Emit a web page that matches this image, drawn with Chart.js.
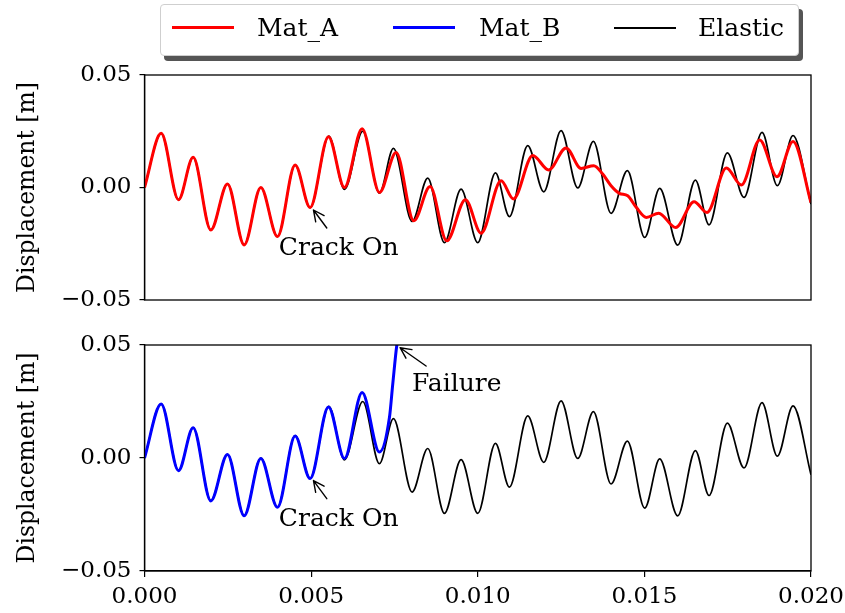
<!DOCTYPE html>
<html>
<head>
<meta charset="utf-8">
<title>Displacement</title>
<script src="https://cdn.jsdelivr.net/npm/chart.js@4.4.1/dist/chart.umd.min.js"></script>
<style>
  body { margin: 0; background: #fff; }
  #wrap { position: relative; width: 845px; height: 613px; font-family: 'DejaVu Serif', serif; }
  canvas { position: absolute; left: 0; }
  #legend {
    position: absolute; left: 160px; top: 4px; width: 637px; height: 50px;
    background: #fff; border: 1px solid #cfcfcf; border-radius: 4px;
    box-shadow: 4px 5px 0 #555;
  }
  #legend .ln { position: absolute; width: 62px; }
  #legend .tx { position: absolute; top: 8px; font-size: 25px; line-height: 30px; color: #000; white-space: nowrap; }
</style>
</head>
<body>
<div id="wrap">
  <canvas id="topChart" width="845" height="322" style="top:0"></canvas>
  <canvas id="bottomChart" width="845" height="291" style="top:322px"></canvas>
  <div id="legend"></div>
</div>
<script>
// time [s] and displacement [m] (peaks / troughs)
const elasticT = [0, 0.0005, 0.00102, 0.00146, 0.00199, 0.00249, 0.00299, 0.00349, 0.00399, 0.00452, 0.00497, 0.00553, 0.0060, 0.00655, 0.00705, 0.00747, 0.00803, 0.0085, 0.0090, 0.0095, 0.0100, 0.01053, 0.01095, 0.0115, 0.01198, 0.0125, 0.0130, 0.01347, 0.0140, 0.01449, 0.01501, 0.01546, 0.0160, 0.01653, 0.01694, 0.01749, 0.01799, 0.01853, 0.01899, 0.01946, 0.0200];
const elasticY = [0, 0.0240, -0.0055, 0.0134, -0.0189, 0.0016, -0.0255, 0.0000, -0.0218, 0.0099, -0.0090, 0.0228, -0.0008, 0.0250, -0.0025, 0.0174, -0.0151, 0.0042, -0.0245, -0.0007, -0.0245, 0.0065, -0.0129, 0.0186, -0.0019, 0.0253, -0.0002, 0.0205, -0.0115, 0.0075, -0.0222, -0.0004, -0.0256, 0.0033, -0.0166, 0.0154, -0.0044, 0.0245, 0.0008, 0.0231, -0.0074];

const matAT = [0, 0.0005, 0.00102, 0.00146, 0.00199, 0.00249, 0.00299, 0.00349, 0.00399, 0.00452, 0.00497, 0.00552, 0.0060, 0.00653, 0.00705, 0.00755, 0.00808, 0.00857, 0.00907, 0.00963, 0.0101, 0.0107, 0.01107, 0.01165, 0.01213, 0.01265, 0.0131, 0.01348, 0.01375, 0.0140, 0.01425, 0.0145, 0.01476, 0.01506, 0.01543, 0.01594, 0.01649, 0.01688, 0.01746, 0.01791, 0.01846, 0.01898, 0.01946, 0.0200];
const matAY = [0, 0.0241, -0.0054, 0.0134, -0.0189, 0.0016, -0.0255, 0.0000, -0.0218, 0.0100, -0.0089, 0.0226, 0.0000, 0.0261, -0.0022, 0.0156, -0.0148, 0.0004, -0.0237, -0.0054, -0.0203, 0.0030, -0.0051, 0.0142, 0.0078, 0.0176, 0.0085, 0.0097, 0.0060, 0.0008, -0.0026, -0.0037, -0.0089, -0.0133, -0.0114, -0.0178, -0.0063, -0.0111, 0.0087, 0.0011, 0.0211, 0.0048, 0.0205, -0.0067];

const matBT = [0, 0.0005, 0.00102, 0.00146, 0.00199, 0.00249, 0.00299, 0.00349, 0.00399, 0.00452, 0.00497, 0.00552, 0.0060, 0.00653, 0.00705, 0.00735, 0.00745, 0.00757, 0.00765];
const matBY = [0, 0.0239, -0.0056, 0.0134, -0.0190, 0.0016, -0.0256, -0.0002, -0.0218, 0.0097, -0.0091, 0.0226, -0.0002, 0.0290, 0.0026, 0.0179, 0.0328, 0.0498, 0.0560];

const xTickValues = [0, 0.005, 0.010, 0.015, 0.020];
const xTickLabels = ['0.000', '0.005', '0.010', '0.015', '0.020'];
const yTickValues = [-0.05, 0, 0.05];
const yTickLabels = ['\u22120.05', '0.00', '0.05'];

const seriesNames = ['Mat_A', 'Mat_B', 'Elastic'];
const seriesColors = ['#ff0000', '#0000ff', '#000000'];

const FONT = 'DejaVu Serif';

// annotations (data coords)
const crackNote = { text: 'Crack On', tip: [0.00507, -0.0100], tail: [0.00547, -0.0180], at: [0.00403, -0.0302] };
const failNote = { text: 'Failure', tip: [0.00767, 0.0488], tail: [0.00845, 0.0407], at: [0.00803, 0.0298] };

function toPoints(t, y) {
    return t.map((v, i) => ({ x: v, y: y[i] }));
}

function lineSet(label, t, y, color, width) {
    return {
        label: label,
        data: toPoints(t, y),
        borderColor: color,
        borderWidth: width,
        pointRadius: 0,
        fill: false,
        cubicInterpolationMode: 'monotone'
    };
}

// box around the plot area
const framePlugin = {
    id: 'frame',
    afterDraw(chart) {
        const a = chart.chartArea;
        const ctx = chart.ctx;
        ctx.save();
        ctx.strokeStyle = '#000';
        ctx.lineWidth = 1.3;
        ctx.strokeRect(a.left, a.top, a.right - a.left, a.bottom - a.top);
        ctx.restore();
    }
};

// text + open arrow like matplotlib annotate
function notesPlugin(items) {
    return {
        id: 'notes',
        afterDatasetsDraw(chart) {
            const ctx = chart.ctx;
            const xs = chart.scales.x;
            const ys = chart.scales.y;
            items.forEach(n => {
                const tx = xs.getPixelForValue(n.tip[0]), ty = ys.getPixelForValue(n.tip[1]);
                const sx = xs.getPixelForValue(n.tail[0]), sy = ys.getPixelForValue(n.tail[1]);
                const ang = Math.atan2(ty - sy, tx - sx);
                ctx.save();
                ctx.strokeStyle = '#000';
                ctx.lineWidth = 1.4;
                ctx.lineCap = 'round';
                ctx.beginPath();
                ctx.moveTo(sx, sy);
                ctx.lineTo(tx, ty);
                [-0.45, 0.45].forEach(d => {
                    ctx.moveTo(tx, ty);
                    ctx.lineTo(tx - 12 * Math.cos(ang + d), ty - 12 * Math.sin(ang + d));
                });
                ctx.stroke();
                ctx.font = '25px "' + FONT + '"';
                ctx.fillStyle = '#000';
                ctx.textAlign = 'left';
                ctx.textBaseline = 'alphabetic';
                ctx.fillText(n.text, xs.getPixelForValue(n.at[0]), ys.getPixelForValue(n.at[1]));
                ctx.restore();
            });
        }
    };
}

function yScale() {
    return {
        min: -0.05,
        max: 0.05,
        afterBuildTicks: s => { s.ticks = yTickValues.map(v => ({ value: v })); },
        afterFit: s => { s.width = 144.5; s.paddingTop = 0; s.paddingBottom = 0; },
        ticks: {
            color: '#000',
            padding: 8,
            font: { family: FONT, size: 23 },
            callback: (v) => yTickLabels[Math.round(v / 0.05) + 1]
        },
        grid: { drawOnChartArea: false, drawTicks: true, tickLength: 5, color: '#000', lineWidth: 1.2 },
        border: { display: true, color: '#000', width: 1.3 },
        title: {
            display: true,
            text: 'Displacement [m]',
            color: '#000',
            font: { family: FONT, size: 23.5 },
            padding: { top: 14, bottom: 0 }
        }
    };
}

const topChart = new Chart(document.getElementById('topChart'), {
    type: 'line',
    data: {
        datasets: [
            lineSet(seriesNames[0], matAT, matAY, seriesColors[0], 3),
            lineSet(seriesNames[2], elasticT, elasticY, seriesColors[2], 1.7)
        ]
    },
    options: {
        responsive: false,
        animation: false,
        devicePixelRatio: 1,
        layout: { padding: { top: 75, right: 34, bottom: 22, left: 0 } },
        plugins: { legend: { display: false }, tooltip: { enabled: false } },
        scales: {
            x: { type: 'linear', min: 0, max: 0.02, display: false },
            y: yScale()
        }
    },
    plugins: [framePlugin, notesPlugin([crackNote])]
});

const bottomChart = new Chart(document.getElementById('bottomChart'), {
    type: 'line',
    data: {
        datasets: [
            lineSet(seriesNames[1], matBT, matBY, seriesColors[1], 3),
            lineSet(seriesNames[2], elasticT, elasticY, seriesColors[2], 1.7)
        ]
    },
    options: {
        responsive: false,
        animation: false,
        devicePixelRatio: 1,
        layout: { padding: { top: 23, right: 34, bottom: 0, left: 0 } },
        plugins: { legend: { display: false }, tooltip: { enabled: false } },
        scales: {
            x: {
                type: 'linear',
                min: 0,
                max: 0.02,
                afterBuildTicks: s => { s.ticks = xTickValues.map(v => ({ value: v })); },
                afterFit: s => { s.height = 42; s.paddingLeft = 0; s.paddingRight = 0; },
                ticks: {
                    color: '#000',
                    padding: 6,
                    maxRotation: 0,
                    font: { family: FONT, size: 23 },
                    callback: (v) => xTickLabels[Math.round(v / 0.005)]
                },
                grid: { drawOnChartArea: false, drawTicks: true, tickLength: 6, color: '#000', lineWidth: 1.2 },
                border: { display: true, color: '#000', width: 1.3 }
            },
            y: yScale()
        }
    },
    plugins: [framePlugin, notesPlugin([crackNote, failNote])]
});

// legend box (one entry per series)
const legendEl = document.getElementById('legend');
const lineLeft = [11, 232, 453];
const textLeft = [96, 318, 537];
seriesNames.forEach((name, i) => {
    const ln = document.createElement('div');
    ln.className = 'ln';
    ln.style.left = lineLeft[i] + 'px';
    ln.style.top = (i === 2 ? 22 : 21) + 'px';
    ln.style.borderTop = (i === 2 ? 2 : 3) + 'px solid ' + seriesColors[i];
    legendEl.appendChild(ln);
    const tx = document.createElement('div');
    tx.className = 'tx';
    tx.style.left = textLeft[i] + 'px';
    tx.textContent = name;
    legendEl.appendChild(tx);
});
</script>
</body>
</html>
